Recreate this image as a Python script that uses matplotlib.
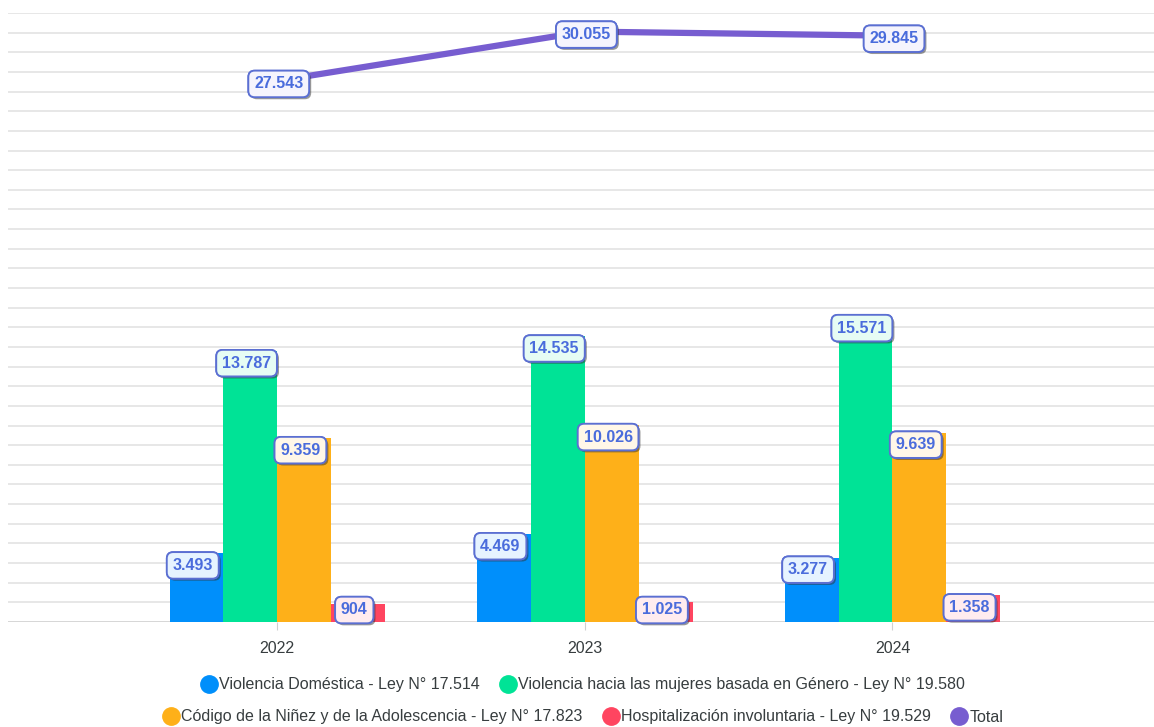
import numpy as np
import matplotlib.pyplot as plt
import matplotlib.patheffects as pe
from matplotlib.lines import Line2D

plt.rcParams['font.family'] = ['Liberation Sans', 'DejaVu Sans']

years = ["2022", "2023", "2024"]
series_names = [
    "Violencia Doméstica - Ley N° 17.514",
    "Violencia hacia las mujeres basada en Género - Ley N° 19.580",
    "Código de la Niñez y de la Adolescencia - Ley N° 17.823",
    "Hospitalización involuntaria - Ley N° 19.529",
]
domestica = [3493, 4469, 3277]
genero = [13787, 14535, 15571]
ninez = [9359, 10026, 9639]
hospitalizacion = [904, 1025, 1358]
total = [27543, 30055, 29845]

colors = ["#008FFB", "#00E396", "#FEB019", "#FF4560"]
fills = ["#e6f3ff", "#e6fcf4", "#fff7e8", "#ffecef"]
total_color = "#775DD0"
label_edge = "#5b6fd2"
label_text = "#4a6cdc"


def fmt(v):
    return f"{v:,}".replace(",", ".")


fig = plt.figure(figsize=(11.54, 7.27), dpi=100)
ax = fig.add_axes([8 / 1154, 105 / 727, 1146 / 1154, 609 / 727])

ymax = 31000
ax.set_ylim(0, ymax)
ax.set_xlim(-0.875, 2.85)
px = ymax / 609.0

for y in range(1000, ymax + 1, 1000):
    ax.axhline(y, color="#e5e5e5", lw=1.3, zorder=0)
ax.axhline(0, color="#d0d0d0", lw=1.2, zorder=1)

x = np.arange(len(years))
w = 0.175
data = [domestica, genero, ninez, hospitalizacion]


def box_label(xc, yc, text, fill):
    t = ax.text(xc, yc, text, ha="center", va="center", fontsize=11.5,
                fontweight="bold", color=label_text, zorder=6,
                bbox=dict(boxstyle="round,pad=0.36,rounding_size=0.4",
                          fc=fill, ec=label_edge, lw=1.3))
    t.get_bbox_patch().set_path_effects(
        [pe.withSimplePatchShadow(offset=(1.5, -1.5), shadow_rgbFace="#333",
                                  alpha=0.5), pe.Normal()])


for i, (vals, c, f) in enumerate(zip(data, colors, fills)):
    xs = x + (i - 1.5) * w
    ax.bar(xs, vals, width=w, color=c, zorder=2)
    for xi, v in zip(xs, vals):
        yc = max(v - 12 * px, 12 * px)
        box_label(xi - 0.012, yc, fmt(v), f)

ax.plot(x, total, color=total_color, lw=4.5, zorder=4, solid_capstyle="butt")
for xi, v in zip(x, total):
    box_label(xi + 0.005, v - 3 * px, fmt(v), "#f5f4fd")

ax.set_xticks(x)
ax.set_xticklabels(years, fontsize=11.5, color="#373d3f")
ax.tick_params(axis="x", length=6, color="#d0d0d0", pad=8)
ax.set_yticks([])
for s in ax.spines.values():
    s.set_visible(False)


def handle(c):
    return Line2D([], [], marker="o", ls="", markersize=12.5,
                  markerfacecolor=c, markeredgecolor=c)


legend_kw = dict(loc="center", frameon=False, fontsize=11.5,
                 handletextpad=0.1, columnspacing=1.2, handlelength=1.1)
leg1 = fig.legend([handle(colors[0]), handle(colors[1])], series_names[:2],
                  bbox_to_anchor=(0.505, 1 - 685 / 727), ncol=2, **legend_kw)
leg2 = fig.legend([handle(colors[2]), handle(colors[3]), handle(total_color)],
                  series_names[2:] + ["Total"],
                  bbox_to_anchor=(0.505, 1 - 717 / 727), ncol=3, **legend_kw)
for leg in (leg1, leg2):
    for t in leg.get_texts():
        t.set_color("#373d3f")

fig.savefig("out.png", dpi=100)
